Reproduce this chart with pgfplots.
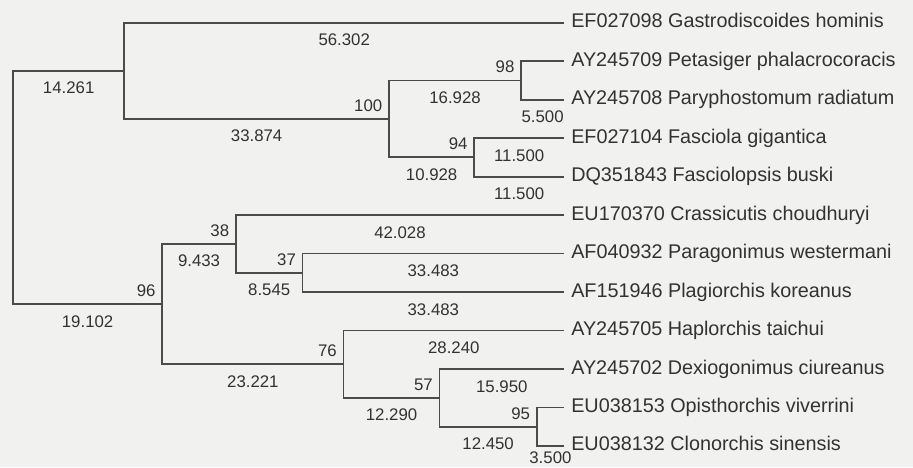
\documentclass[border=0pt]{standalone}
\usepackage{pgfplots}
\pgfplotsset{compat=1.18}
\usepackage{fontspec}
\setmainfont{Liberation Sans}
\definecolor{bgc}{RGB}{241,241,239}
\definecolor{linec}{RGB}{75,75,75}
\definecolor{textc}{RGB}{50,50,50}
\begin{document}
\begin{tikzpicture}
\begin{axis}[
  width=913pt, height=467pt, scale only axis,
  xmin=-1.665, xmax=115.24, ymin=-0.590, ymax=11.546,
  y dir=reverse,
  axis lines=none, ticks=none,
  axis background/.style={fill=bgc},
  clip=false,
  tree/.style={draw=linec, line width=1.8pt, mark=none, line join=miter},
  lab/.style={draw=none, mark=none, nodes near coords, point meta=explicit symbolic},
]
% tree brackets
\addplot[tree] coordinates {(14.261,1.25) (0,1.25) (0,7.3125) (19.102,7.3125)};
\addplot[tree] coordinates {(70.563,0) (14.261,0) (14.261,2.5) (48.135,2.5)};
\addplot[tree] coordinates {(65.063,1.5) (48.135,1.5) (48.135,3.5) (59.063,3.5)};
\addplot[tree] coordinates {(70.563,1) (65.063,1) (65.063,2) (70.563,2)};
\addplot[tree] coordinates {(70.563,3) (59.063,3) (59.063,4) (70.563,4)};
\addplot[tree] coordinates {(28.535,5.75) (19.102,5.75) (19.102,8.875) (42.323,8.875)};
\addplot[tree] coordinates {(70.563,5) (28.535,5) (28.535,6.5) (37.08,6.5)};
\addplot[tree] coordinates {(70.563,6) (37.08,6) (37.08,7) (70.563,7)};
\addplot[tree] coordinates {(70.563,8) (42.323,8) (42.323,9.75) (54.613,9.75)};
\addplot[tree] coordinates {(70.563,9) (54.613,9) (54.613,10.5) (67.063,10.5)};
\addplot[tree] coordinates {(70.563,10) (67.063,10) (67.063,11) (70.563,11)};
% leaf labels
\addplot[lab, nodes near coords style={anchor=base west, inner sep=0pt, xshift=7pt, yshift=-5pt, text=textc, font=\fontsize{19.8}{22}\selectfont}]
 table[meta=t, row sep=\\] {
 x y t\\
 70.563 0 {EF027098 Gastrodiscoides hominis}\\
 70.563 1 {AY245709 Petasiger phalacrocoracis}\\
 70.563 2 {AY245708 Paryphostomum radiatum}\\
 70.563 3 {EF027104 Fasciola gigantica}\\
 70.563 4 {DQ351843 Fasciolopsis buski}\\
 70.563 5 {EU170370 Crassicutis choudhuryi}\\
 70.563 6 {AF040932 Paragonimus westermani}\\
 70.563 7 {AF151946 Plagiorchis koreanus}\\
 70.563 8 {AY245705 Haplorchis taichui}\\
 70.563 9 {AY245702 Dexiogonimus ciureanus}\\
 70.563 10 {EU038153 Opisthorchis viverrini}\\
 70.563 11 {EU038132 Clonorchis sinensis}\\
 };
% bootstrap values
\addplot[lab, nodes near coords style={anchor=base east, inner sep=0pt, xshift=-6.5pt, yshift=7.5pt, text=textc, font=\fontsize{16.8}{19}\selectfont}]
 table[meta=t, row sep=\\] {
 x y t\\
 48.135 2.5 100\\
 65.063 1.5 98\\
 59.063 3.5 94\\
 19.102 7.3125 96\\
 28.535 5.75 38\\
 37.08 6.5 37\\
 42.323 8.875 76\\
 54.613 9.75 57\\
 67.063 10.5 95\\
 };
% branch lengths
\addplot[lab, nodes near coords style={anchor=base, inner sep=0pt, yshift=-23pt, text=textc, font=\fontsize{16.8}{19}\selectfont}]
 table[meta=t, row sep=\\] {
 x y t\\
 7.1305 1.25 14.261\\
 42.412 0 56.302\\
 31.198 2.5 33.874\\
 56.599 1.5 16.928\\
 67.813 2 5.500\\
 53.599 3.5 10.928\\
 64.813 3 11.500\\
 64.813 4 11.500\\
 9.551 7.3125 19.102\\
 23.8185 5.75 9.433\\
 49.549 5 42.028\\
 32.8075 6.5 8.545\\
 53.8215 6 33.483\\
 53.8215 7 33.483\\
 30.7125 8.875 23.221\\
 56.443 8 28.240\\
 48.468 9.75 12.290\\
 62.588 9 15.950\\
 60.838 10.5 12.450\\
 };
\addplot[lab, nodes near coords style={anchor=base, inner sep=0pt, yshift=-17pt, text=textc, font=\fontsize{16.8}{19}\selectfont}]
 table[meta=t, row sep=\\] {
 x y t\\
 68.813 11 3.500\\
 };
\end{axis}
\end{tikzpicture}
\end{document}
